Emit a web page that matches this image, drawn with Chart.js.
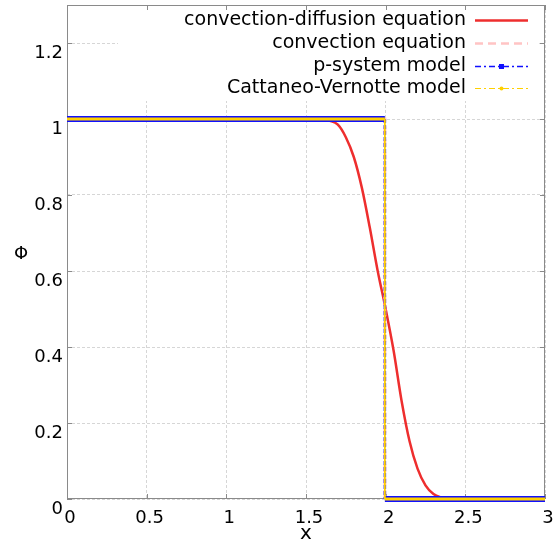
<!DOCTYPE html>
<html>
<head>
<meta charset="utf-8">
<script src="https://cdn.jsdelivr.net/npm/chart.js@4"></script>
<style>
  html, body { margin: 0; padding: 0; background: #fff; }
  #wrap { width: 560px; height: 543px; }
</style>
</head>
<body>
<div id="wrap"><canvas id="chart" width="560" height="543"></canvas></div>
<script>
// series
const diffusionX = [0, 1.5, 1.6, 1.65, 1.7, 1.75, 1.8, 1.85, 1.9, 1.95, 2.0, 2.05, 2.1, 2.15, 2.2, 2.25, 2.3, 2.35, 2.4, 3];
const diffusionY = [1, 1, 0.999, 0.995, 0.985, 0.952, 0.9, 0.82, 0.715, 0.6, 0.5, 0.39, 0.258, 0.152, 0.08, 0.036, 0.013, 0.004, 0, 0];

const convectionX = [0, 1.995, 1.995, 3];
const convectionY = [1, 1, 0, 0];
const pSystemX = [0, 1.995, 1.995, 3];
const pSystemY = [1, 1, 0, 0];
const cattaneoX = [0, 1.995, 1.995, 3];
const cattaneoY = [1, 1, 0, 0];

const xTickValues = [0, 0.5, 1, 1.5, 2, 2.5, 3];
const xTickLabels = ['0', '0.5', '1', '1.5', '2', '2.5', '3'];
const yTickValues = [0, 0.2, 0.4, 0.6, 0.8, 1, 1.2];
const yTickLabels = ['0', '0.2', '0.4', '0.6', '0.8', '1', '1.2'];

const seriesNames = ['convection-diffusion equation', 'convection equation', 'p-system model', 'Cattaneo-Vernotte model'];

const RED = '#ee2e2e';
const PINK = '#ffc4c4';
const BLUE = '#1010ff';
const GOLD = '#ffd000';
const FONT = '"DejaVu Sans", sans-serif';

const toPoints = (xs, ys) => xs.map((x, i) => ({ x: x, y: ys[i] }));
const flat = ctx => ctx.p0.parsed.y === ctx.p1.parsed.y;

// frame, inward ticks, legend, axis titles
const decor = {
  id: 'decor',
  beforeDatasetsDraw(chart) {
    const { ctx, chartArea: a, scales } = chart;
    ctx.save();
    // legend box hides the grid under it
    ctx.fillStyle = '#fff';
    ctx.fillRect(118, a.top + 1, a.right - 6 - 118, 95);

    ctx.strokeStyle = '#8a8a8a';
    ctx.lineWidth = 1;
    ctx.strokeRect(a.left + 0.5, a.top + 0.5, a.right - a.left - 1, a.bottom - a.top - 1);

    ctx.beginPath();
    xTickValues.forEach(v => {
      const px = Math.round(scales.x.getPixelForValue(v)) + 0.5;
      ctx.moveTo(px, a.bottom); ctx.lineTo(px, a.bottom - 5);
      ctx.moveTo(px, a.top); ctx.lineTo(px, a.top + 5);
    });
    yTickValues.forEach(v => {
      const py = Math.round(scales.y.getPixelForValue(v)) + 0.5;
      ctx.moveTo(a.left, py); ctx.lineTo(a.left + 5, py);
      ctx.moveTo(a.right, py); ctx.lineTo(a.right - 5, py);
    });
    ctx.stroke();
    ctx.restore();
  },
  afterDraw(chart) {
    const { ctx, chartArea: a } = chart;
    ctx.save();
    ctx.fillStyle = '#000';

    // axis titles
    ctx.font = '20px ' + FONT;
    ctx.textAlign = 'center';
    ctx.textBaseline = 'alphabetic';
    ctx.fillText('x', (a.left + a.right) / 2, 539);
    ctx.font = '18px ' + FONT;
    ctx.fillText('\u03A6', 21, 259);

    // legend
    ctx.font = '19px ' + FONT;
    ctx.textAlign = 'right';
    ctx.textBaseline = 'middle';
    const rows = [20, 43, 66, 88];
    rows.forEach((ry, i) => ctx.fillText(seriesNames[i], 466, ry));

    const x0 = 475, x1 = 528, xm = (x0 + x1) / 2;
    const sample = (y, color, width, dash) => {
      ctx.beginPath();
      ctx.strokeStyle = color;
      ctx.lineWidth = width;
      ctx.setLineDash(dash);
      ctx.moveTo(x0, y); ctx.lineTo(x1, y);
      ctx.stroke();
    };
    sample(rows[0] + 0.5, RED, 2.5, []);
    sample(rows[1] + 0.5, PINK, 2.5, [8, 5]);
    sample(rows[2] + 0.5, BLUE, 1.5, [6, 3, 2, 3]);
    ctx.setLineDash([]);
    ctx.fillStyle = BLUE;
    ctx.fillRect(xm - 2.5, rows[2] - 2, 5, 5);
    sample(rows[3] + 0.5, GOLD, 1, [6, 3, 2, 3]);
    ctx.setLineDash([]);
    ctx.fillStyle = GOLD;
    ctx.beginPath();
    ctx.arc(xm, rows[3] + 0.5, 2, 0, Math.PI * 2);
    ctx.fill();
    ctx.restore();
  }
};

new Chart(document.getElementById('chart').getContext('2d'), {
  type: 'scatter',
  data: {
    datasets: [
      {
        label: seriesNames[3],
        data: toPoints(cattaneoX, cattaneoY),
        showLine: true,
        pointRadius: 0,
        borderColor: GOLD,
        borderWidth: 3,
        clip: 4,
        order: 0,
        segment: {
          borderWidth: ctx => flat(ctx) ? 3 : 1.8,
          borderDash: ctx => flat(ctx) ? [] : [5, 3]
        }
      },
      {
        label: seriesNames[2],
        data: toPoints(pSystemX, pSystemY),
        showLine: true,
        pointRadius: 0,
        borderColor: BLUE,
        borderWidth: 6,
        clip: 4,
        order: 1,
        segment: {
          borderWidth: ctx => flat(ctx) ? 6 : 2.5,
          borderDash: ctx => flat(ctx) ? [] : [2, 4]
        }
      },
      {
        label: seriesNames[1],
        data: toPoints(convectionX, convectionY),
        showLine: true,
        pointRadius: 0,
        borderColor: PINK,
        borderWidth: 3,
        borderDash: [8, 5],
        clip: 4,
        order: 2
      },
      {
        label: seriesNames[0],
        data: toPoints(diffusionX, diffusionY),
        showLine: true,
        pointRadius: 0,
        borderColor: RED,
        borderWidth: 2.5,
        cubicInterpolationMode: 'monotone',
        order: 3
      }
    ]
  },
  options: {
    responsive: false,
    animation: false,
    layout: { padding: { left: 0, right: 15, top: 5, bottom: 0 } },
    plugins: { legend: { display: false }, tooltip: { enabled: false } },
    scales: {
      x: {
        type: 'linear',
        min: 0,
        max: 3,
        afterBuildTicks: scale => { scale.ticks = xTickValues.map(v => ({ value: v })); },
        afterFit: scale => {
          scale.height = 44;
          scale.paddingLeft = 0; scale.paddingRight = 0;
        },
        ticks: {
          callback: (v, i) => xTickLabels[i],
          color: '#000',
          font: { family: FONT, size: 18 },
          padding: 9,
          labelOffset: 3,
          maxRotation: 0
        },
        grid: { color: '#d6d6d6', lineWidth: 1, drawTicks: false },
        border: { display: false, dash: [3, 2] }
      },
      y: {
        type: 'linear',
        min: 0,
        max: 1.3,
        afterBuildTicks: scale => { scale.ticks = yTickValues.map(v => ({ value: v })); },
        afterFit: scale => {
          scale.width = 67;
          scale.paddingTop = 0; scale.paddingBottom = 0;
        },
        ticks: {
          callback: (v, i) => yTickLabels[i],
          color: '#000',
          font: { family: FONT, size: 18 },
          padding: 4,
          labelOffset: 10
        },
        grid: { color: '#d6d6d6', lineWidth: 1, drawTicks: false },
        border: { display: false, dash: [3, 2] }
      }
    }
  },
  plugins: [decor]
});
</script>
</body>
</html>
